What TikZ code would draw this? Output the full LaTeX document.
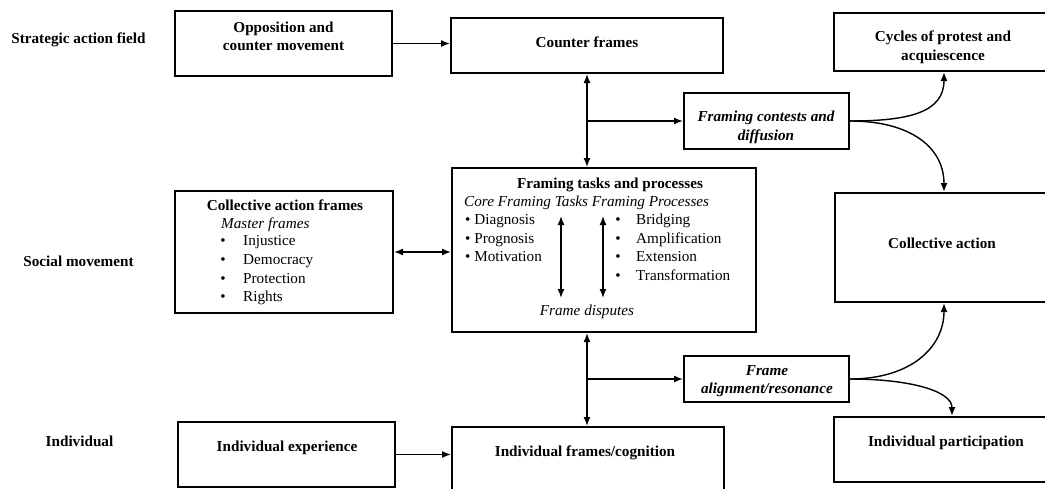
\documentclass[tikz,border=0pt]{standalone}
\usepackage{fontspec}
\setmainfont{Liberation Serif}
\usetikzlibrary{arrows.meta}
\begin{document}
\begin{tikzpicture}[x=1pt,y=-1pt,
  >={Latex[length=9pt,width=7pt]},
  blockbox/.style={draw,line width=2pt,inner sep=0pt},
  lbl/.style={inner sep=0pt,align=center,font=\fontsize{15.2}{18.5}\selectfont},
  lblb/.style={lbl,font=\fontsize{15.2}{18.5}\selectfont\bfseries},
  lbli/.style={lbl,font=\fontsize{15.2}{18.5}\selectfont\itshape},
  lblbi/.style={lbl,font=\fontsize{15.2}{18.5}\selectfont\bfseries\itshape},
  txt/.style={text height=10.5pt,text depth=3pt},
  link/.style={line width=1.4pt}]
  \useasboundingbox (0,0) rectangle (1045,488);
  \clip (0,0) rectangle (1045,488);
  \node[lblb,txt] (saf) at (78.5,40) {Strategic action field};
  \node[lblb,txt] (sm) at (78.5,263) {Social movement};
  \node[lblb,txt] (ind) at (79.5,443) {Individual};
  \node[blockbox,minimum width=217,minimum height=65] (opp) at (283.5,43.5) {};
  \node[lblb] (opptxt) at (283.5,36.5) {Opposition and\\counter movement};
  \node[blockbox,minimum width=272,minimum height=55] (cf) at (587,45.5) {};
  \node[lblb,txt] (cftxt) at (587,44) {Counter frames};
  \node[blockbox,minimum width=220,minimum height=58] (cyc) at (944,42) {};
  \node[lblb] (cyctxt) at (943,47.5) {Cycles of protest and\\acquiescence};
  \node[blockbox,minimum width=165,minimum height=56] (fc) at (766.5,121) {};
  \node[lblbi] (fctxt) at (766,127.5) {Framing contests and\\diffusion};
  \node[blockbox,minimum width=218,minimum height=122] (caf) at (284,252) {};
  \node[lblb,txt] (caftxt) at (285,207) {Collective action frames};
  \node[lbli,txt,anchor=west] (master) at (221,225) {Master frames};
  \foreach \w [count=\i] in {Injustice,Democracy,Protection,Rights} {
    \node[lbl,txt] (cafdot\i) at (223,223.5+18.6*\i) {\textbullet};
    \node[lbl,txt,anchor=west] (cafitem\i) at (243,223.5+18.6*\i) {\w};
  }
  \node[blockbox,minimum width=304,minimum height=164] (ftp) at (604,250) {};
  \node[lblb,txt] (ftptxt) at (610,185) {Framing tasks and processes};
  \node[lbli,txt,anchor=west] (ftphead) at (464,203) {Core Framing Tasks Framing Processes};
  \foreach \w [count=\i] in {Diagnosis,Prognosis,Motivation}
    \node[lbl,txt,anchor=west] (task\i) at (465,202.5+18.5*\i) {\textbullet\ \w};
  \foreach \w [count=\i] in {Bridging,Amplification,Extension,Transformation} {
    \node[lbl,txt] (procdot\i) at (618,202.5+18.5*\i) {\textbullet};
    \node[lbl,txt,anchor=west] (proc\i) at (636,202.5+18.5*\i) {\w};
  }
  \node[lbli,txt] (disp) at (587,312) {Frame disputes};
  \coordinate (ta) at (561,216);
  \coordinate (tb) at (561,298);
  \coordinate (pa) at (603,216);
  \coordinate (pb) at (603,298);
  \node[blockbox,minimum width=218,minimum height=109] (ca) at (944,247.5) {};
  \node[lblb,txt] (catxt) at (942,245) {Collective action};
  \node[blockbox,minimum width=165,minimum height=46] (fa) at (766.5,379) {};
  \node[lblbi] (fatxt) at (767,381) {Frame\\alignment/resonance};
  \node[blockbox,minimum width=217,minimum height=65] (ie) at (286.5,454.5) {};
  \node[lblb,txt] (ietxt) at (287,448) {Individual experience};
  \node[blockbox,minimum width=272,minimum height=78] (ifc) at (588,466) {};
  \node[lblb,txt] (ifctxt) at (585,453) {Individual frames/cognition};
  \node[blockbox,minimum width=220,minimum height=65] (ip) at (944,449.5) {};
  \node[lblb,txt] (iptxt) at (946,443) {Individual participation};
  \draw[link,->] (opp.east) -- (opp.east -| cf.west);
  \draw[link,<->] (cf.south) -- (cf.south |- ftp.north);
  \draw[link,->] (cf.south |- fc.west) -- (fc.west);
  \draw[link,<->] (caf.east) -- (caf.east -| ftp.west);
  \draw[link,<->] (ta) -- (tb);
  \draw[link,<->] (pa) -- (pb);
  \draw[link,<->] (cf.south |- ftp.south) -- (cf.south |- ifc.north);
  \draw[link,->] (cf.south |- fa.west) -- (fa.west);
  \draw[link,->] (ie.east) -- (ie.east -| ifc.west);
  \draw[link,->] (fc.east) .. controls +(60,0) and +(0,40) .. (cyc.south);
  \draw[link,->] (fc.east) .. controls +(60,0) and +(0,-45) .. (ca.north);
  \draw[link,->] (fa.east) .. controls +(60,0) and +(0,45) .. (ca.south);
  \draw[link,->] (fa.east) .. controls +(60,0) and +(0,-25) .. ([xshift=8pt]ip.north);
\end{tikzpicture}
\end{document}
